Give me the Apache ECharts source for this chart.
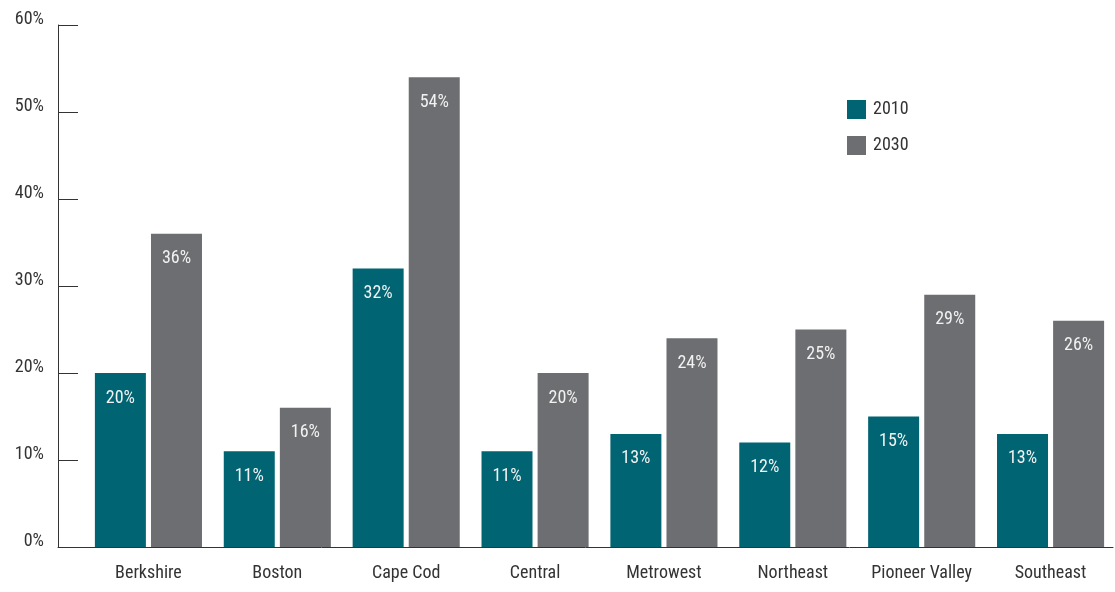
<!DOCTYPE html>
<html>
<head>
<meta charset="utf-8">
<script src="https://cdn.jsdelivr.net/npm/echarts@6/dist/echarts.min.js"></script>
<style>
  html, body { margin: 0; padding: 0; background: #ffffff; }
  #chart { width: 1115px; height: 592px; }
</style>
</head>
<body>
<div id="chart"></div>
<script>
// Regions and the share of population for each year
const regions = ['Berkshire', 'Boston', 'Cape Cod', 'Central', 'Metrowest', 'Northeast', 'Pioneer Valley', 'Southeast'];
const values2010 = [20, 11, 32, 11, 13, 12, 15, 13];
const values2030 = [36, 16, 54, 20, 24, 25, 29, 26];
const yTicks = [0, 10, 20, 30, 40, 50, 60];

const FONT = '"Roboto Condensed", "Open Sans", sans-serif';
const TEAL = '#006473';
const GRAY = '#6d6e71';
const INK = '#333333';

const chart = echarts.init(document.getElementById('chart'), null, { renderer: 'canvas' });

const txt = (extra) => Object.assign({ fontFamily: FONT, fontSize: 18 }, extra);

const barLabel = txt({
  show: true,
  position: 'insideTop',
  distance: 16,
  color: '#f2f2f2',
  formatter: p => p.value + '%'
});

chart.setOption({
  animation: false,
  legend: {
    orient: 'vertical',
    left: 842,
    top: 95,
    itemWidth: 19,
    itemHeight: 19,
    itemGap: 17,
    icon: 'rect',
    textStyle: txt({ color: INK, padding: [0, 0, 0, 2] }),
    data: ['2010', '2030']
  },
  grid: [
    // frame grid: carries the visible axes
    { left: 58, right: 2, top: 25, bottom: 45 },
    // bar grid: category bands
    { left: 84, right: -3, top: 25, bottom: 45 }
  ],
  xAxis: [
    {
      type: 'value', gridIndex: 0, min: 0, max: 1,
      axisLine: { show: true, onZero: false, lineStyle: { color: INK, width: 1 } },
      axisTick: { show: false }, axisLabel: { show: false }, splitLine: { show: false }
    },
    {
      type: 'category', gridIndex: 1, data: regions,
      axisLine: { show: false }, axisTick: { show: false },
      axisLabel: txt({ color: INK, margin: 17, interval: 0 })
    }
  ],
  yAxis: [
    {
      type: 'value', gridIndex: 0, min: 0, max: 60, interval: 10,
      axisLine: { show: true, lineStyle: { color: INK, width: 1 } },
      axisTick: { show: true, inside: true, length: 20, lineStyle: { color: INK, width: 1 } },
      splitLine: { show: false },
      axisLabel: txt({
        color: INK, margin: 14,
        verticalAlign: 'bottom', lineHeight: 12,
        formatter: v => yTicks.includes(v) ? v + '%' : ''
      })
    },
    {
      type: 'value', gridIndex: 1, min: 0, max: 60, interval: 10,
      show: false
    }
  ],
  series: [
    {
      name: '2010', type: 'bar', xAxisIndex: 1, yAxisIndex: 1,
      data: values2010, barWidth: 51, barGap: '10%',
      itemStyle: { color: TEAL }, label: barLabel
    },
    {
      name: '2030', type: 'bar', xAxisIndex: 1, yAxisIndex: 1,
      data: values2030, barWidth: 51, barGap: '10%',
      itemStyle: { color: GRAY }, label: barLabel
    }
  ]
});
</script>
</body>
</html>
